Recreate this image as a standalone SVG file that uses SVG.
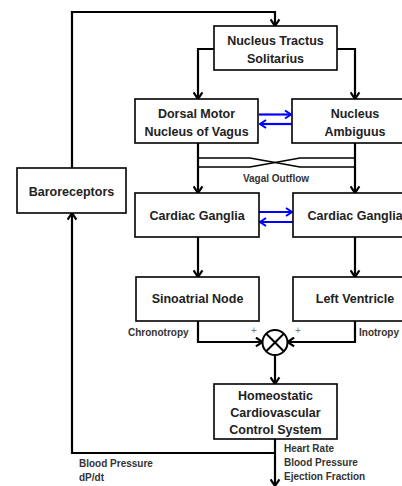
<svg xmlns="http://www.w3.org/2000/svg" width="402" height="486" viewBox="0 0 402 486">
<style>
.box{fill:#fff;stroke:#000;stroke-width:1.6}
.t{font-family:"Liberation Sans",Arial,sans-serif;font-size:12.5px;font-weight:bold;fill:#222;text-anchor:middle}
.s{font-family:"Liberation Sans",Arial,sans-serif;font-size:10px;font-weight:bold;fill:#333}
.p{font-family:"Liberation Sans",Arial,sans-serif;font-size:10px;fill:#777}
.c{fill:none;stroke:#000;stroke-width:2.2}
.x{fill:none;stroke:#000;stroke-width:1.5}
.b{fill:none;stroke:#0000ff;stroke-width:2.2}
</style>
<defs>
<marker id="ah" viewBox="0 0 10 10" refX="9" refY="5" markerWidth="11" markerHeight="11" markerUnits="userSpaceOnUse" orient="auto">
<path d="M3,1 L9,5 L3,9" fill="none" stroke="#000" stroke-width="2"/>
</marker>
<marker id="bh" viewBox="0 0 10 10" refX="9" refY="5" markerWidth="10" markerHeight="10" markerUnits="userSpaceOnUse" orient="auto">
<path d="M3,1 L9,5 L3,9" fill="none" stroke="#0000ff" stroke-width="2"/>
</marker>
</defs>
<g id="connectors">
<path class="c" d="M72,168 V12 H275 V26" marker-end="url(#ah)"/>
<path class="c" d="M214,49 H198 V99" marker-end="url(#ah)"/>
<path class="c" d="M337,49 H355 V99" marker-end="url(#ah)"/>
<path class="c" d="M198,143 V193" marker-end="url(#ah)"/>
<path class="c" d="M355,143 V193" marker-end="url(#ah)"/>
<path class="x" d="M198,158 H250 L300,167 H355"/>
<path class="x" d="M198,167 H250 L300,158 H355"/>
<path class="b" d="M259,114.5 H291" marker-end="url(#bh)"/>
<path class="b" d="M292,124 H260" marker-end="url(#bh)"/>
<path class="b" d="M259,212 H292" marker-end="url(#bh)"/>
<path class="b" d="M293,222 H260" marker-end="url(#bh)"/>
<path class="c" d="M198,237 V277" marker-end="url(#ah)"/>
<path class="c" d="M355,237 V277" marker-end="url(#ah)"/>
<path class="c" d="M198,321 V342 H262.5" marker-end="url(#ah)"/>
<path class="c" d="M355,321 V342 H287.5" marker-end="url(#ah)"/>
<path class="c" d="M275,355 V384" marker-end="url(#ah)"/>
<path class="c" d="M275,439 V486" marker-end="url(#ah)"/>
<path class="c" d="M275,453 H72 V213" marker-end="url(#ah)"/>
<text class="s" x="276" y="182" text-anchor="middle">Vagal Outflow</text>
<text class="s" x="128" y="336">Chronotropy</text>
<text class="s" x="359" y="336">Inotropy</text>
<text class="p" x="251" y="334">+</text>
<text class="p" x="295" y="334">+</text>
<text class="s" x="284" y="452">Heart Rate</text>
<text class="s" x="284" y="466">Blood Pressure</text>
<text class="s" x="284" y="480">Ejection Fraction</text>
<text class="s" x="79" y="467">Blood Pressure</text>
<text class="s" x="79" y="481">dP/dt</text>
</g>
<g id="nts">
<rect class="box" x="214" y="26" width="123" height="44"/>
<text class="t" x="275.5" y="45">Nucleus Tractus</text>
<text class="t" x="275.5" y="63">Solitarius</text>
</g>
<g id="dmnv">
<rect class="box" x="135" y="99" width="123" height="44"/>
<text class="t" x="196.5" y="118">Dorsal Motor</text>
<text class="t" x="196.5" y="136">Nucleus of Vagus</text>
</g>
<g id="na">
<rect class="box" x="292" y="99" width="123" height="44"/>
<text class="t" x="355" y="118">Nucleus</text>
<text class="t" x="355" y="136">Ambiguus</text>
</g>
<g id="baro">
<rect class="box" x="17" y="168" width="109" height="45"/>
<text class="t" x="71.5" y="196">Baroreceptors</text>
</g>
<g id="cg1">
<rect class="box" x="135" y="193" width="124" height="44"/>
<text class="t" x="197" y="220">Cardiac Ganglia</text>
</g>
<g id="cg2">
<rect class="box" x="293" y="193" width="124" height="44"/>
<text class="t" x="355" y="220">Cardiac Ganglia</text>
</g>
<g id="sa">
<rect class="box" x="136" y="277" width="123" height="44"/>
<text class="t" x="197.5" y="303">Sinoatrial Node</text>
</g>
<g id="lv">
<rect class="box" x="293" y="277" width="124" height="44"/>
<text class="t" x="355" y="303">Left Ventricle</text>
</g>
<g id="sum">
<circle cx="275" cy="342.5" r="12.5" fill="#fff" stroke="#000" stroke-width="2"/>
<path d="M266.2,333.7 L283.8,351.3 M283.8,333.7 L266.2,351.3" stroke="#000" stroke-width="2"/>
</g>
<g id="hccs">
<rect class="box" x="214" y="384" width="123" height="55"/>
<text class="t" x="275.5" y="400">Homeostatic</text>
<text class="t" x="275.5" y="417">Cardiovascular</text>
<text class="t" x="275.5" y="434">Control System</text>
</g>
</svg>
